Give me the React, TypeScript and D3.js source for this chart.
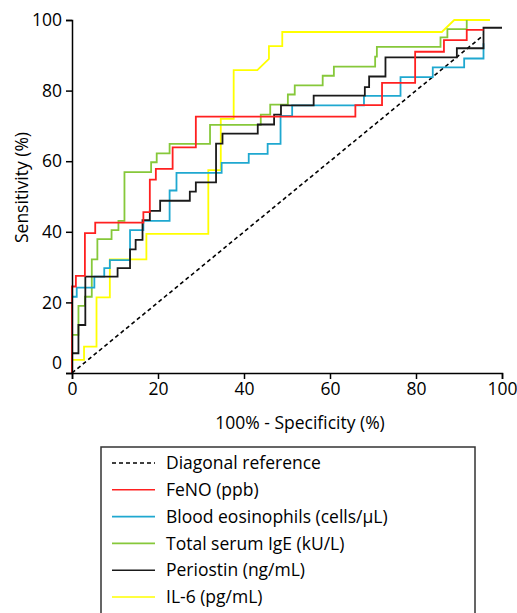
import React, { useRef, useEffect } from "react";
import * as d3 from "d3";

// ROC curve vertices: [100% - specificity, sensitivity]
const feno = [
  [0, 0], [0, 24.5], [0.9, 24.5], [0.9, 27.5], [3, 27.5], [3, 39.6], [5.4, 39.6], [5.4, 42.6],
  [16.6, 42.6], [16.6, 45.6], [18.1, 45.6], [18.1, 54.8], [19.5, 54.8], [19.5, 57.8], [23.4, 57.8],
  [23.4, 63.9], [28.8, 63.9], [28.8, 72.6], [65.9, 72.6], [65.9, 75.9], [72.1, 75.9], [72.1, 82.2],
  [79.8, 82.2], [79.8, 91], [86.5, 91], [86.5, 94.3], [91.8, 94.3], [91.8, 97.2], [95.7, 97.2],
];
const eosinophils = [
  [0, 0], [0, 21.6], [1.1, 21.6], [1.1, 24.2], [5.2, 24.2], [5.2, 27.3], [7.5, 27.3], [7.5, 29.7],
  [8.8, 29.7], [8.8, 32], [13.5, 32], [13.5, 40.5], [16.6, 40.5], [16.6, 43.1], [22.7, 43.1],
  [22.7, 51.7], [24.3, 51.7], [24.3, 56.7], [34.8, 56.7], [34.8, 59.5], [41.1, 59.5], [41.1, 62.1],
  [45.5, 62.1], [45.5, 64.9], [48.5, 64.9], [48.5, 72.8], [51.2, 72.8], [51.2, 75.8], [67.9, 75.8],
  [67.9, 78.5], [76.4, 78.5], [76.4, 83.8], [83.9, 83.8], [83.9, 86.6], [91.2, 86.6], [91.2, 89.1],
  [95.7, 89.1], [95.7, 93.4],
];
const ige = [
  [0, 0], [0, 10.8], [1.5, 10.8], [1.5, 19], [3, 19], [3, 21.6], [4.6, 21.6], [4.6, 32.2],
  [5.9, 32.2], [5.9, 37.9], [9.2, 37.9], [9.2, 40.5], [10.8, 40.5], [10.8, 43.1], [12.2, 43.1],
  [12.2, 56.9], [18.4, 56.9], [18.4, 59.7], [19.7, 59.7], [19.7, 62.2], [22.7, 62.2], [22.7, 64.9],
  [32.1, 64.9], [32.1, 70.3], [43.9, 70.3], [43.9, 73.2], [46.1, 73.2], [46.1, 76], [50.2, 76],
  [50.2, 78.9], [51.8, 78.9], [51.8, 81.5], [58.3, 81.5], [58.3, 84.2], [60.9, 84.2], [60.9, 86.8],
  [70.5, 86.8], [70.5, 89.6], [70.9, 89.6], [70.9, 92.4], [85.7, 92.4], [85.7, 95.1], [87.3, 95.1],
  [87.3, 97.4], [91.8, 97.4], [91.8, 100],
];
const periostin = [
  [0, 0], [0, 5.6], [1.5, 5.6], [1.5, 13.6], [3.1, 13.6], [3.1, 27.3], [10.6, 27.3], [10.6, 29.7],
  [13.5, 29.7], [13.5, 35], [14.8, 35], [14.8, 37.7], [16.4, 37.7], [16.4, 43.3], [18.1, 43.3],
  [18.1, 45.9], [20.5, 45.9], [20.5, 48.8], [27.4, 48.8], [27.4, 51.4], [28.8, 51.4], [28.8, 54],
  [33.5, 54], [33.5, 65], [35, 65], [35, 67.8], [43.2, 67.8], [43.2, 70.4], [47, 70.4], [47, 73.2],
  [48.6, 73.2], [48.6, 75.8], [56.2, 75.8], [56.2, 78.6], [68.1, 78.6], [68.1, 81], [69.1, 81],
  [69.1, 84], [72.9, 84], [72.9, 89.4], [89.5, 89.4], [89.5, 92], [95.7, 92], [95.7, 97.8], [100, 97.8],
];
const il6 = [
  [0, 0], [0, 3.7], [2.8, 3.7], [2.8, 7.5], [5.7, 7.5], [5.7, 21.4], [8.8, 21.4], [8.8, 32.2],
  [17.3, 32.2], [17.3, 39.4], [31.7, 39.4], [31.7, 57.5], [34.6, 57.5], [34.6, 72], [37.6, 72],
  [37.6, 85.8], [43.1, 85.8], [45.8, 89], [45.8, 92.6], [48.9, 92.6], [48.9, 96.6], [86, 96.6],
  [88.9, 100], [97.2, 100],
];
const diagonal = [[0, 0], [95.7, 95.7]];

const xTicks = [0, 20, 40, 60, 80, 100];
const yTicks = [0, 20, 40, 60, 80, 100];

const series = [
  { name: "Diagonal reference", data: diagonal, color: "#000000", dash: "4,3" },
  { name: "FeNO (ppb)", data: feno, color: "#ff2020", dash: null },
  { name: "Blood eosinophils (cells/\u03bcL)", data: eosinophils, color: "#1fa8d0", dash: null },
  { name: "Total serum IgE (kU/L)", data: ige, color: "#86c83a", dash: null },
  { name: "Periostin (ng/mL)", data: periostin, color: "#1a1a1a", dash: null },
  { name: "IL-6 (pg/mL)", data: il6, color: "#ffff00", dash: null },
];
// draw order (last on top)
const drawOrder = [0, 5, 3, 2, 4, 1];

const FONT = "'Open Sans', sans-serif";
const FS = 17.5;

const App = () => {
  const svgRef = useRef(null);

  useEffect(() => {
    document.body.style.margin = "0";
    document.body.style.overflow = "hidden";

    const width = 517;
    const height = 613;
    const margin = { top: 20, right: 15, bottom: 240, left: 72 };

    const x = d3.scaleLinear().domain([0, 100]).range([margin.left, width - margin.right]);
    const y = d3.scaleLinear().domain([0, 100]).range([height - margin.bottom, margin.top]);

    const svg = d3.select(svgRef.current);
    svg.selectAll("*").remove();

    const line = d3
      .line()
      .x((d) => x(d[0]))
      .y((d) => y(d[1]));

    // curves
    drawOrder.forEach((i) => {
      const s = series[i];
      svg
        .append("path")
        .datum(s.data)
        .attr("fill", "none")
        .attr("stroke", s.color)
        .attr("stroke-width", s.dash ? 1.6 : 1.8)
        .attr("stroke-dasharray", s.dash)
        .attr("d", line);
    });

    // X axis
    svg
      .append("g")
      .attr("transform", `translate(0,${y(0)})`)
      .call(d3.axisBottom(x).tickValues(xTicks).tickSizeOuter(0).tickSize(6).tickPadding(4))
      .call((g) => g.selectAll("path, line").attr("stroke", "#000").attr("stroke-width", 1.5))
      .call((g) => g.selectAll("text").attr("font-size", FS).attr("font-family", FONT).attr("fill", "#000"));

    // Y axis
    svg
      .append("g")
      .attr("transform", `translate(${x(0)},0)`)
      .call(d3.axisLeft(y).tickValues(yTicks).tickSizeOuter(0).tickSize(6).tickPadding(4))
      .call((g) => g.selectAll("path, line").attr("stroke", "#000").attr("stroke-width", 1.5))
      .call((g) => g.selectAll("text").attr("font-size", FS).attr("font-family", FONT).attr("fill", "#000"))
      .call((g) =>
        g
          .selectAll(".tick")
          .filter((d) => d === 0)
          .select("text")
          .attr("dy", "-0.25em")
      );

    // axis titles
    svg
      .append("text")
      .attr("x", 300)
      .attr("y", 429)
      .attr("text-anchor", "middle")
      .attr("font-size", FS)
      .attr("font-family", FONT)
      .text("100% - Specificity (%)");

    svg
      .append("text")
      .attr("transform", `translate(28,${(y(0) + y(100)) / 2 - 9}) rotate(-90)`)
      .attr("text-anchor", "middle")
      .attr("font-size", FS)
      .attr("font-family", FONT)
      .text("Sensitivity (%)");

    // legend
    const legend = svg.append("g");
    legend
      .append("rect")
      .attr("x", 101)
      .attr("y", 447)
      .attr("width", 374)
      .attr("height", 200)
      .attr("fill", "none")
      .attr("stroke", "#333")
      .attr("stroke-width", 1.5);

    series.forEach((s, i) => {
      const cy = 463 + i * 26.8;
      legend
        .append("line")
        .attr("x1", 112)
        .attr("x2", 155)
        .attr("y1", cy)
        .attr("y2", cy)
        .attr("stroke", s.color)
        .attr("stroke-width", 1.6)
        .attr("stroke-dasharray", s.dash);
      legend
        .append("text")
        .attr("x", 166)
        .attr("y", cy)
        .attr("dy", "0.35em")
        .attr("font-size", FS)
        .attr("font-family", FONT)
        .text(s.name);
    });
  }, []);

  return <svg ref={svgRef} width={517} height={613} style={{ display: "block" }}></svg>;
};

export default App;
